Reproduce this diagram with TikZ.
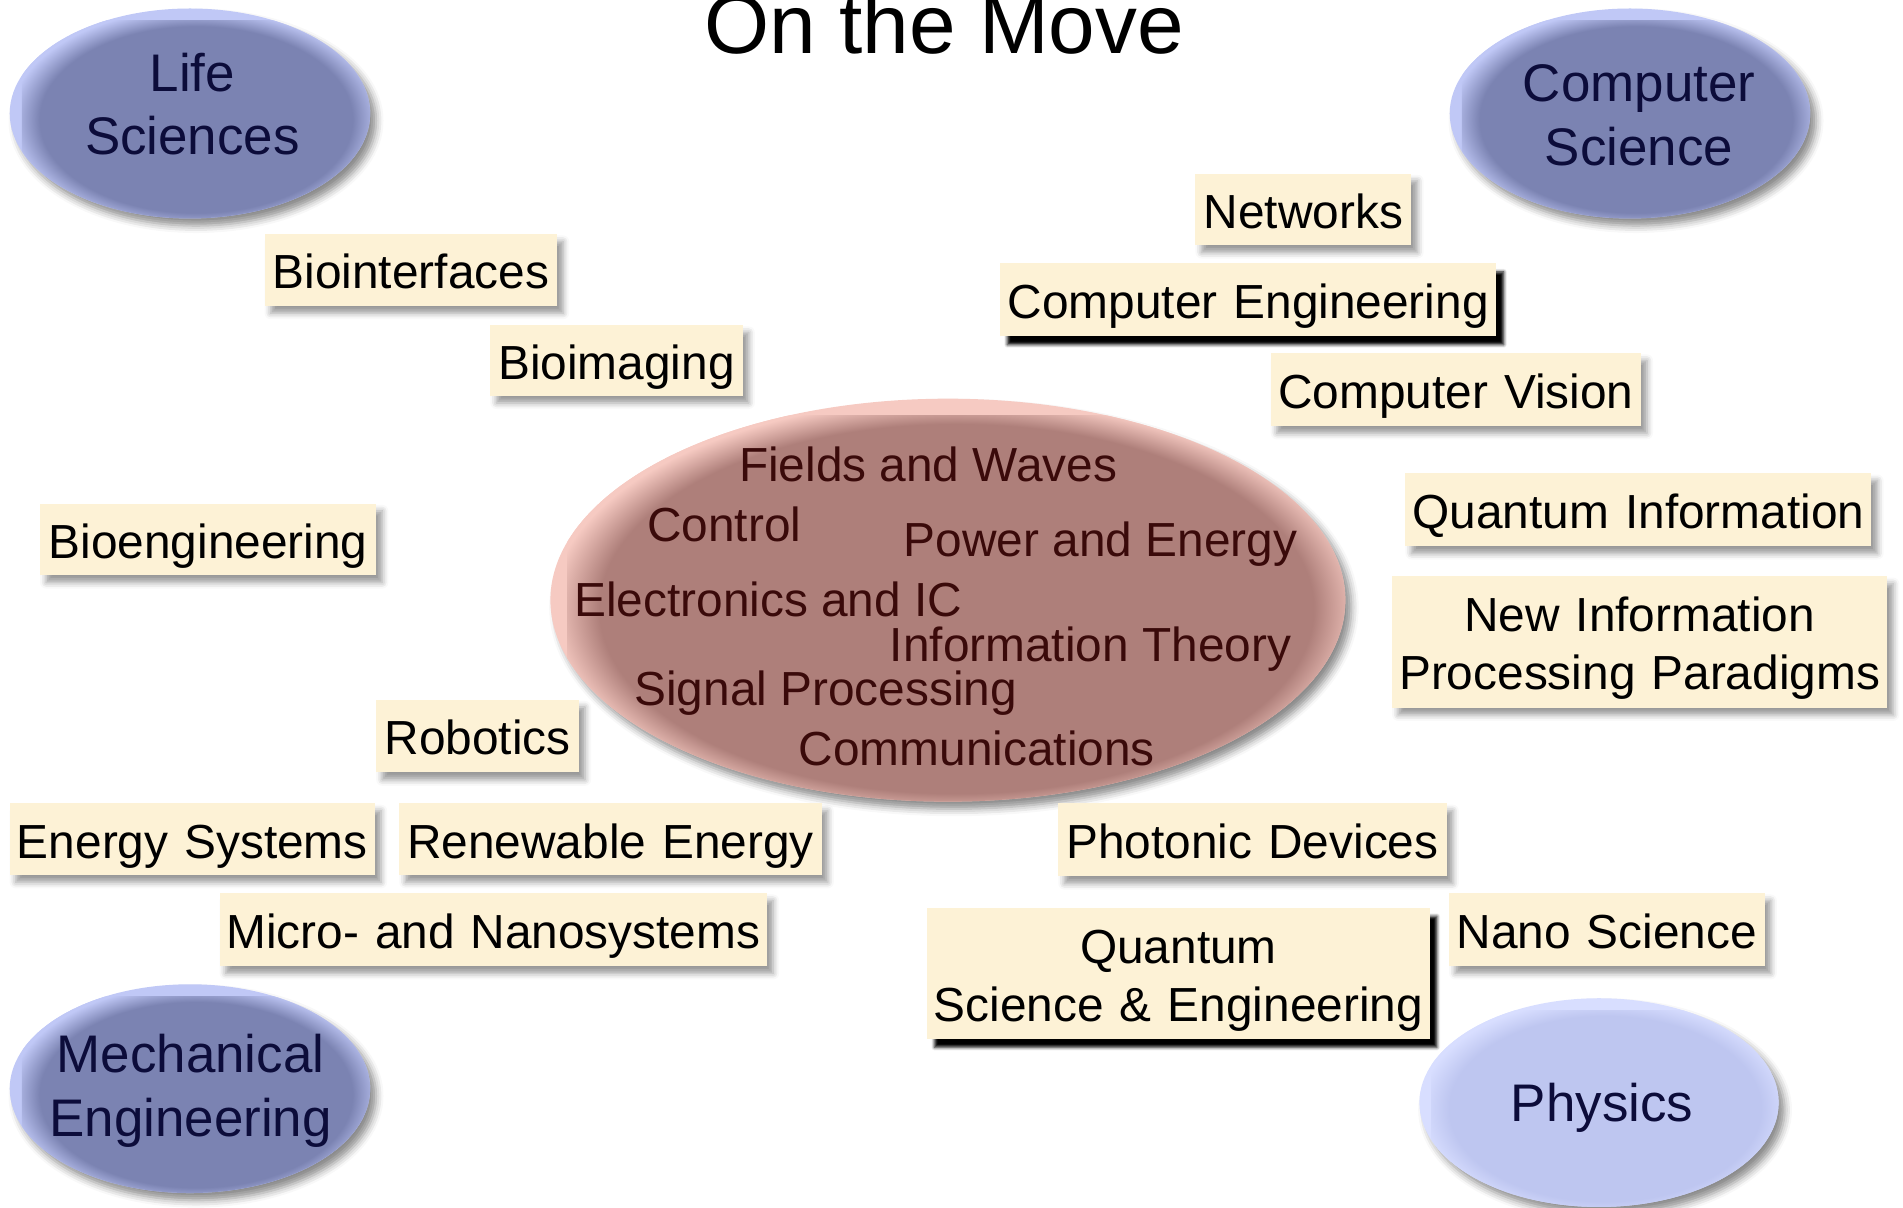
\documentclass[tikz,border=0pt]{standalone}
\usepackage{fontspec}
\setmainfont{Liberation Sans}
\usetikzlibrary{shapes.geometric,shadows.blur,calc}

% palette
\definecolor{cream}{RGB}{253,242,214}
\definecolor{bmain}{RGB}{123,131,178}
\definecolor{brim}{RGB}{192,200,246}
\definecolor{pmain}{RGB}{190,198,240}
\definecolor{prim}{RGB}{216,222,255}
\definecolor{rmain}{RGB}{174,127,122}
\definecolor{rrim}{RGB}{246,202,194}
\definecolor{navytext}{RGB}{12,12,58}
\definecolor{maroontext}{RGB}{58,10,10}

% bubble fills: flat core, lighter rim
\pgfdeclareradialshading{bluefill}{\pgfpoint{0bp}{0bp}}{color(0bp)=(bmain); color(21bp)=(bmain); color(25bp)=(brim); color(50bp)=(brim)}
\pgfdeclareradialshading{physfill}{\pgfpoint{0bp}{0bp}}{color(0bp)=(pmain); color(21bp)=(pmain); color(25bp)=(prim); color(50bp)=(prim)}
\pgfdeclareradialshading{rosefill}{\pgfpoint{0bp}{0bp}}{color(0bp)=(rmain); color(22bp)=(rmain); color(25bp)=(rrim); color(50bp)=(rrim)}

\newcommand\tagfont{\fontsize{39.4}{48}\selectfont}
\newcommand\labfont{\fontsize{43.6}{52.7}\selectfont}

\tikzset{
  bubble/.style={ellipse, inner sep=0pt, draw=none,
    blur shadow={shadow xshift=5pt, shadow yshift=-6pt, shadow blur radius=6pt, shadow opacity=45}},
  bluebub/.style={bubble, fill=brim,
    path picture={\shade[shading=bluefill]
      ($(path picture bounding box.south west)+(10,10)$) rectangle
      ($(path picture bounding box.north east)+(10,10)$);}},
  physbub/.style={bubble, fill=prim,
    path picture={\shade[shading=physfill]
      ($(path picture bounding box.south west)+(10,10)$) rectangle
      ($(path picture bounding box.north east)+(10,10)$);}},
  corebub/.style={bubble, fill=rrim,
    path picture={\shade[shading=rosefill]
      ($(path picture bounding box.south west)+(14,14)$) rectangle
      ($(path picture bounding box.north east)+(14,14)$);}},
  tagbase/.style={fill=cream, inner sep=0pt, align=center, font=\tagfont,
    text height=31pt, text depth=0pt},
  softtag/.style={tagbase,
    blur shadow={shadow xshift=5pt, shadow yshift=-6pt, shadow blur radius=5pt, shadow opacity=40}},
  darktag/.style={tagbase,
    blur shadow={shadow xshift=6pt, shadow yshift=-7pt, shadow blur radius=2.5pt, shadow opacity=100}},
  twoline/.style={text depth=48pt},
  coretext/.style={inner sep=0pt, font=\tagfont, text=maroontext, anchor=base west},
  lab/.style={inner sep=0pt, align=center, text width=320pt, font=\labfont, text=navytext, anchor=base},
}

\begin{document}
\begin{tikzpicture}[x=1pt, y=-1pt]
\useasboundingbox (0,0) rectangle (1568,995);

% title
\node[inner sep=0pt, anchor=base, font=\fontsize{69}{80}\selectfont] (title) at (778,44) {On the Move};

% neighbouring disciplines
\node[bluebub, minimum width=297pt, minimum height=173pt] (life) at (156.5,93.5) {};
\node[bluebub, minimum width=297pt, minimum height=173pt] (cs)   at (1343,93.5) {};
\node[bluebub, minimum width=297pt, minimum height=172pt] (mech) at (156.5,897) {};
\node[physbub, minimum width=296pt, minimum height=172pt] (phys) at (1317.5,908.5) {};

\node[lab] (lifetx) at (158.5,75)  {Life\\Sciences};
\node[lab] (cstx)   at (1350.5,84) {Computer\\Science};
\node[lab] (mechtx) at (157,884)   {Mechanical\\Engineering};
\node[lab] (phystx) at (1320,924)  {Physics};

% core of the field
\node[corebub, minimum width=655pt, minimum height=332pt] (core) at (781,494.5) {};
\node[coretext] (fields)  at (608.7,397)   {Fields and Waves};
\node[coretext] (control) at (533,446.3)   {Control};
\node[coretext] (power)   at (744.5,458.7) {Power and Energy};
\node[coretext] (elec)    at (473,508)     {Electronics and IC};
\node[coretext] (infoth)  at (733,545)     {Information Theory};
\node[coretext] (signal)  at (522.5,581)   {Signal Processing};
\node[coretext] (comm)    at (658,630.4)   {Communications};

% topics on the life-science side
\node[softtag, text width=241pt, minimum height=59pt] (bioint) at (338.5,222.5) {Biointerfaces};
\node[softtag, text width=208pt, minimum height=58pt] (bioim)  at (508,297) {Bioimaging};
\node[softtag, text width=277pt, minimum height=59pt] (bioeng) at (171.5,444.5) {Bioengineering};

% topics on the mechanical side
\node[softtag, text width=167pt, minimum height=60pt] (robot)  at (393.5,606.5) {Robotics};
\node[softtag, text width=301pt, minimum height=59pt] (ensys)  at (158.5,691.5) {Energy Systems};
\node[softtag, text width=348pt, minimum height=59pt] (renew)  at (503,691.5) {Renewable Energy};
\node[softtag, text width=451pt, minimum height=60pt] (mems)   at (406.5,766) {Micro- and Nanosystems};

% topics on the computing side
\node[softtag, text width=178pt, minimum height=59pt] (netw)   at (1074,172.5) {Networks};
\node[darktag, text width=409pt, minimum height=60pt] (compeng) at (1028.5,247) {Computer Engineering};
\node[softtag, text width=305pt, minimum height=60pt] (vision) at (1199.5,321) {Computer Vision};
\node[softtag, text width=384pt, minimum height=60pt] (qinfo)  at (1350,420) {Quantum Information};
\node[softtag, twoline, text width=408pt, minimum height=108pt] (newinfo) at (1351,529) {New Information\\Processing Paradigms};

% topics on the physics side
\node[softtag, text width=320pt, minimum height=60pt] (photon) at (1032,692) {Photonic Devices};
\node[darktag, twoline, text width=414pt, minimum height=108pt] (qse) at (971,802) {Quantum\\Science \& Engineering};
\node[softtag, text width=260pt, minimum height=60pt] (nano)   at (1324,766) {Nano Science};
\end{tikzpicture}
\end{document}
